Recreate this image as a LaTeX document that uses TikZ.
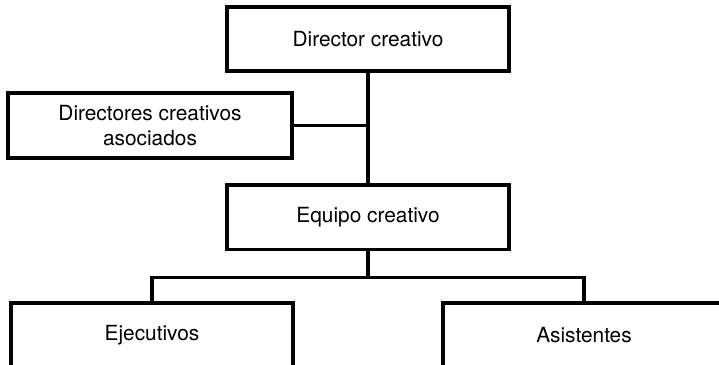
\documentclass[tikz,border=0pt]{standalone}
\usepackage{fontspec}
\setmainfont{TeX Gyre Heros}
\usepackage{tikz}
\usetikzlibrary{positioning}

\begin{document}
\begin{tikzpicture}[x=0.03cm, y=-0.03cm,
                    every node/.style={align=center, font=\fontsize{17.8}{21}\selectfont},
                    box/.style={draw, line width=3.4pt, minimum width=8.46cm, minimum height=1.93cm, inner sep=0pt},
                    link/.style={line width=3.2pt}
                ]

                    \clip (0,0) rectangle (719,365);

                    % Boxes
                    \node (director) [box] at (368,39) {Director creativo};
                    \node (equipo) [box, below=3.3cm of director] {Equipo creativo};
                    \node (asociados) [box, minimum width=8.52cm] at (150,125.5) {Directores creativos\\ asociados};
                    \node (ejecutivos) [box] at (152,335) {Ejecutivos};
                    \node (asistentes) [box] at (584,335) {Asistentes};

                    % Lines
                    \draw[link] (director) -- (equipo);
                    \draw[link] (asociados) -- (asociados -| director);
                    \draw[link] (equipo.south) -- ++(0,26) coordinate (bus);
                    \draw[link] (ejecutivos.north) |- (bus) -| (asistentes.north);

                \end{tikzpicture}
\end{document}
